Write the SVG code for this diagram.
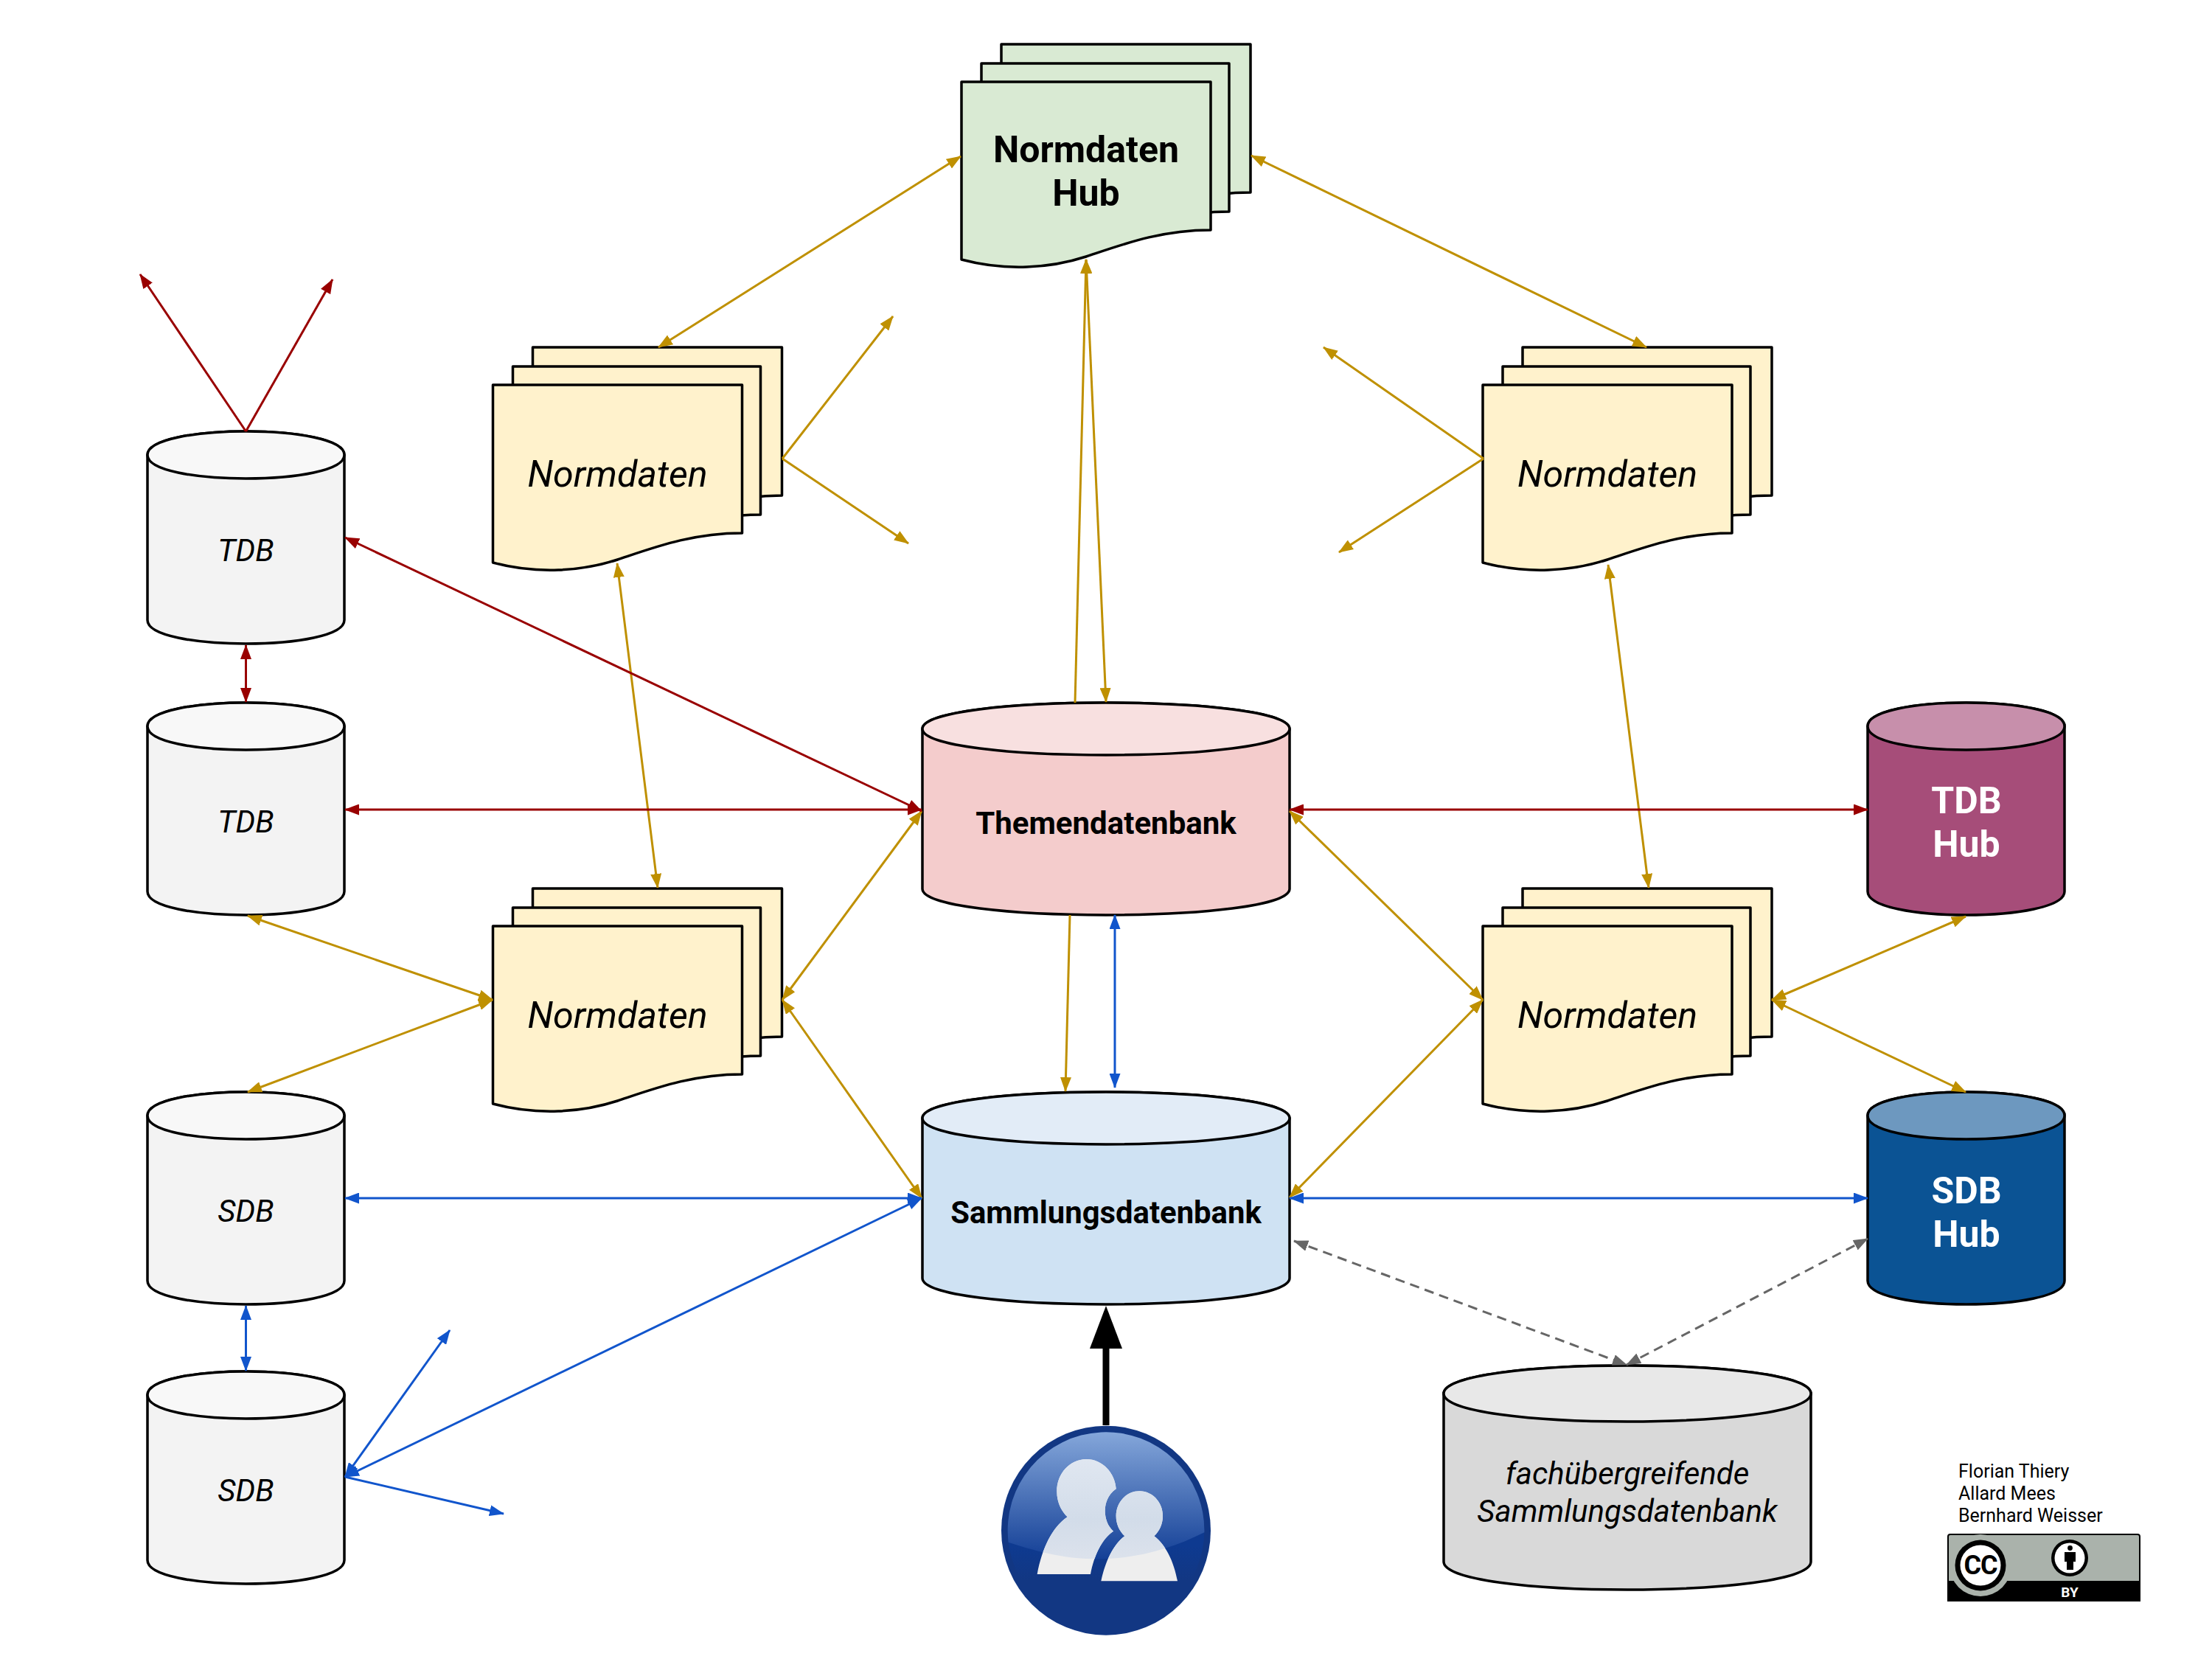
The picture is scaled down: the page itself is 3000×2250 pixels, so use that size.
<svg xmlns="http://www.w3.org/2000/svg" width="3000" height="2250" viewBox="0 0 3000 2250">
<style>
text{font-family:Roboto,"Liberation Sans",sans-serif;text-anchor:middle;fill:#000}
.i{font-style:italic}
.b{font-weight:700}
.w{fill:#fff}
.s{stroke:#000;stroke-width:3.5;stroke-linejoin:round}
.g{stroke:#bf9000}.r{stroke:#990000}.u{stroke:#1155cc}
.c line{stroke-width:3;fill:none}
.g line,line.g{marker-start:url(#ag);marker-end:url(#ag)}
.r line{marker-start:url(#ar);marker-end:url(#ar)}
.u line{marker-start:url(#au);marker-end:url(#au)}
.d line{stroke:#666;stroke-dasharray:13 8;marker-start:url(#ad);marker-end:url(#ad)}
</style>
<defs>
<marker id="ag" viewBox="0 0 20 15" refX="19" refY="7.5" markerUnits="userSpaceOnUse" markerWidth="20" markerHeight="15" orient="auto-start-reverse"><path d="M0,0L20,7.5L0,15Z" fill="#bf9000"/></marker>
<marker id="ar" viewBox="0 0 20 15" refX="19" refY="7.5" markerUnits="userSpaceOnUse" markerWidth="20" markerHeight="15" orient="auto-start-reverse"><path d="M0,0L20,7.5L0,15Z" fill="#990000"/></marker>
<marker id="au" viewBox="0 0 20 15" refX="19" refY="7.5" markerUnits="userSpaceOnUse" markerWidth="20" markerHeight="15" orient="auto-start-reverse"><path d="M0,0L20,7.5L0,15Z" fill="#1155cc"/></marker>
<marker id="ad" viewBox="0 0 20 15" refX="19" refY="7.5" markerUnits="userSpaceOnUse" markerWidth="20" markerHeight="15" orient="auto-start-reverse"><path d="M0,0L20,7.5L0,15Z" fill="#666"/></marker>
<path id="page" d="M0,241V0H338V201C270,201 220,220 169,237C120,253 60,257 0,241Z"/>
<path id="page2" d="M0,241V0H336V201C270,201 220,220 169,237C120,253 60,257 0,241Z"/>
<g id="doc">
<use href="#page" x="54" y="-51"/>
<use href="#page2" x="27" y="-25"/>
<use href="#page"/>
</g>
<path id="cs" d="M0,32C0,-10.67 267,-10.67 267,32V256C267,298.67 0,298.67 0,256Z"/>
<path id="ks" d="M0,32C0,-10.67 267,-10.67 267,32C267,74.67 0,74.67 0,32Z"/>
<path id="cb" d="M0,35.5C0,-11.8 498,-11.8 498,35.5V252.5C498,299.8 0,299.8 0,252.5Z"/>
<path id="kb" d="M0,35.5C0,-11.8 498,-11.8 498,35.5C498,82.8 0,82.8 0,35.5Z"/>
<path id="cf" d="M0,38C0,-12.67 498,-12.67 498,38V266C498,316.67 0,316.67 0,266Z"/>
<path id="kf" d="M0,38C0,-12.67 498,-12.67 498,38C498,88.67 0,88.67 0,38Z"/>
<linearGradient id="gloss" gradientUnits="userSpaceOnUse" x1="0" y1="120" x2="0" y2="645"><stop offset="0" stop-color="#86a8db"/><stop offset="1" stop-color="#133f96"/></linearGradient>
<linearGradient id="lower" gradientUnits="userSpaceOnUse" x1="0" y1="590" x2="0" y2="730"><stop offset="0" stop-color="#0e3a90"/><stop offset="1" stop-color="#123783"/></linearGradient>
<linearGradient id="pg" gradientUnits="userSpaceOnUse" x1="0" y1="237" x2="0" y2="645"><stop offset="0" stop-color="#e0e7f1"/><stop offset=".6" stop-color="#d2dce9"/><stop offset="1" stop-color="#dce2ec"/></linearGradient>
<clipPath id="gc"><path d="M203,575C340,620 450,643 560,643C720,643 860,605 1000,535A400,400 0 1 0 203,575Z"/></clipPath>
<g id="persons">
<path d="M320,705C340,600 380,515 443,472C415,445 400,408 400,368C400,295 453,237 520,237C585,237 637,292 641,358C612,378 596,410 596,447C596,480 608,510 630,530C585,560 552,625 537,705Z"/>
<path d="M580,733C598,650 630,585 676,550C655,530 641,502 641,468C641,412 683,367 736,367C789,367 831,412 831,468C831,502 817,530 796,550C842,585 875,650 891,733Z"/>
</g>
</defs>
<rect width="3000" height="2250" fill="#fff"/>

<g id="hub-normdaten"><g class="s" fill="#d9ead3"><use href="#doc" x="1304" y="111"/></g>
<text x="1473" y="220" font-size="50" class="b">Normdaten</text>
<text x="1473" y="279" font-size="50" class="b">Hub</text></g>

<g id="doc-nw"><g class="s" fill="#fff2cc"><use href="#doc" x="668.5" y="522"/></g><text x="837.5" y="660" font-size="50.2" class="i">Normdaten</text></g>
<g id="doc-ne"><g class="s" fill="#fff2cc"><use href="#doc" x="2011" y="522"/></g><text x="2180" y="660" font-size="50.2" class="i">Normdaten</text></g>
<g id="doc-sw"><g class="s" fill="#fff2cc"><use href="#doc" x="668.5" y="1256"/></g><text x="837.5" y="1394" font-size="50.2" class="i">Normdaten</text></g>
<g id="doc-se"><g class="s" fill="#fff2cc"><use href="#doc" x="2011" y="1256"/></g><text x="2180" y="1394" font-size="50.2" class="i">Normdaten</text></g>

<g id="tdb-1"><g class="s"><use href="#cs" x="200" y="585" fill="#f3f3f3"/><use href="#ks" x="200" y="585" fill="#f8f8f8"/></g><text x="333.5" y="761" font-size="42" class="i">TDB</text></g>
<g id="tdb-2"><g class="s"><use href="#cs" x="200" y="953" fill="#f3f3f3"/><use href="#ks" x="200" y="953" fill="#f8f8f8"/></g><text x="333.5" y="1129" font-size="42" class="i">TDB</text></g>
<g id="sdb-1"><g class="s"><use href="#cs" x="200" y="1481" fill="#f3f3f3"/><use href="#ks" x="200" y="1481" fill="#f8f8f8"/></g><text x="333.5" y="1657" font-size="42" class="i">SDB</text></g>
<g id="sdb-2"><g class="s"><use href="#cs" x="200" y="1860" fill="#f3f3f3"/><use href="#ks" x="200" y="1860" fill="#f8f8f8"/></g><text x="333.5" y="2036" font-size="42" class="i">SDB</text></g>

<g id="themendatenbank"><g class="s"><use href="#cb" x="1251" y="953" fill="#f4cccc"/><use href="#kb" x="1251" y="953" fill="#f8e0e0"/></g><text x="1500" y="1131" font-size="42" class="b">Themendatenbank</text></g>
<g id="sammlungsdatenbank"><g class="s"><use href="#cb" x="1251" y="1481" fill="#cfe2f3"/><use href="#kb" x="1251" y="1481" fill="#e2ecf7"/></g><text x="1500" y="1659" font-size="41.8" class="b">Sammlungsdatenbank</text></g>

<g id="tdb-hub"><g class="s"><use href="#cs" x="2533" y="953" fill="#a64d79"/><use href="#ks" x="2533" y="953" fill="#c78fab"/></g><text x="2667" y="1103" font-size="50" class="b w">TDB</text><text x="2667" y="1162" font-size="50" class="b w">Hub</text></g>
<g id="sdb-hub"><g class="s"><use href="#cs" x="2533" y="1481" fill="#0b5394"/><use href="#ks" x="2533" y="1481" fill="#6d98bf"/></g><text x="2667" y="1632" font-size="50" class="b w">SDB</text><text x="2667" y="1691" font-size="50" class="b w">Hub</text></g>

<g id="fachuebergreifend"><g class="s"><use href="#cf" x="1958" y="1852" fill="#d9d9d9"/><use href="#kf" x="1958" y="1852" fill="#e8e8e8"/></g><text x="2207" y="2013" font-size="42" class="i">fachübergreifende</text><text x="2207" y="2064" font-size="42" class="i">Sammlungsdatenbank</text></g>

<g id="connectors" class="c">
<g class="g">
<line x1="1303" y1="212" x2="893" y2="471"/>
<line x1="1697" y1="211" x2="2233" y2="471"/>
<line x1="1473" y1="352" x2="1500" y2="952"/>
<line x1="1458" y1="953" x2="1473" y2="352" style="marker-start:none"/>
<line x1="1061" y1="622" x2="1211" y2="429" style="marker-start:none"/>
<line x1="1061" y1="622" x2="1232" y2="737" style="marker-start:none"/>
<line x1="2012" y1="622" x2="1795" y2="471" style="marker-start:none"/>
<line x1="2012" y1="622" x2="1816" y2="749" style="marker-start:none"/>
<line x1="837" y1="764" x2="892" y2="1204"/>
<line x1="2181" y1="766" x2="2236" y2="1204"/>
<line x1="336" y1="1242" x2="668" y2="1356"/>
<line x1="336" y1="1481" x2="668" y2="1356"/>
<line x1="1250" y1="1100" x2="1061" y2="1356"/>
<line x1="1250" y1="1625" x2="1061" y2="1356"/>
<line x1="1749" y1="1100" x2="2011" y2="1356"/>
<line x1="1749" y1="1624" x2="2011" y2="1356"/>
<line x1="2403" y1="1356" x2="2666" y2="1243"/>
<line x1="2403" y1="1356" x2="2666" y2="1481"/>
<line x1="1451" y1="1241" x2="1445" y2="1480" style="marker-start:none"/>
</g>
<g class="r">
<line x1="333.5" y1="585" x2="190" y2="372" style="marker-start:none"/>
<line x1="333.5" y1="585" x2="451" y2="379" style="marker-start:none"/>
<line x1="468" y1="729" x2="1250" y2="1100"/>
<line x1="333.5" y1="875" x2="333.5" y2="952"/>
<line x1="468" y1="1098" x2="1250" y2="1098"/>
<line x1="1749" y1="1098" x2="2533" y2="1098"/>
</g>
<g class="u">
<line x1="1512" y1="1241" x2="1512" y2="1475"/>
<line x1="468" y1="1625" x2="1250" y2="1625"/>
<line x1="468" y1="2003" x2="1250" y2="1625"/>
<line x1="468" y1="2003" x2="610" y2="1804"/>
<line x1="468" y1="2003" x2="683" y2="2053" style="marker-start:none"/>
<line x1="333.5" y1="1771" x2="333.5" y2="1859"/>
<line x1="1749" y1="1625" x2="2533" y2="1625"/>
</g>
<g class="d">
<line x1="1755" y1="1683" x2="2206" y2="1851"/>
<line x1="2206" y1="1851" x2="2533" y2="1680"/>
</g>
<line x1="1500" y1="1933" x2="1500" y2="1825" stroke="#000" style="stroke-width:9"/>
<path d="M1500,1771L1522,1829H1478Z" fill="#000"/>
</g>

<g id="nutzer" transform="translate(1300,1900) scale(.33333)">
<circle cx="600" cy="527" r="426" fill="#123783"/>
<circle cx="600" cy="527" r="400" fill="url(#lower)"/>
<path d="M203,575C340,620 450,643 560,643C720,643 860,605 1000,535A400,400 0 1 0 203,575Z" fill="url(#gloss)"/>
<use href="#persons" fill="#eee"/>
<use href="#persons" fill="url(#pg)" clip-path="url(#gc)"/>
</g>

<g id="credits">
<text x="2656" y="2004" font-size="25" style="text-anchor:start">Florian Thiery</text>
<text x="2656" y="2034" font-size="25" style="text-anchor:start">Allard Mees</text>
<text x="2656" y="2064" font-size="25" style="text-anchor:start">Bernhard Weisser</text>
<path d="M2645,2080H2899Q2903,2080 2903,2084V2172H2641V2084Q2641,2080 2645,2080Z" fill="#000"/>
<path d="M2645,2082H2899Q2901,2082 2901,2084V2144H2643V2084Q2643,2082 2645,2082Z" fill="#aab2ab"/>
<circle cx="2686" cy="2123" r="42" fill="#aab2ab"/>
<circle cx="2686" cy="2123" r="34.5" fill="#000"/>
<circle cx="2686" cy="2123" r="27.5" fill="#fff"/>
<text x="2686" y="2135" font-size="36" class="b" style="letter-spacing:-1px">CC</text>
<circle cx="2807" cy="2113" r="25" fill="#000"/>
<circle cx="2807" cy="2113" r="20.5" fill="#fff"/>
<circle cx="2807.5" cy="2099.5" r="3.4" fill="#000"/>
<path d="M2800,2105H2815V2118H2812V2129H2803V2118H2800Z" fill="#000"/>
<text x="2807" y="2166" font-size="19" class="b w">BY</text>
</g>
</svg>
